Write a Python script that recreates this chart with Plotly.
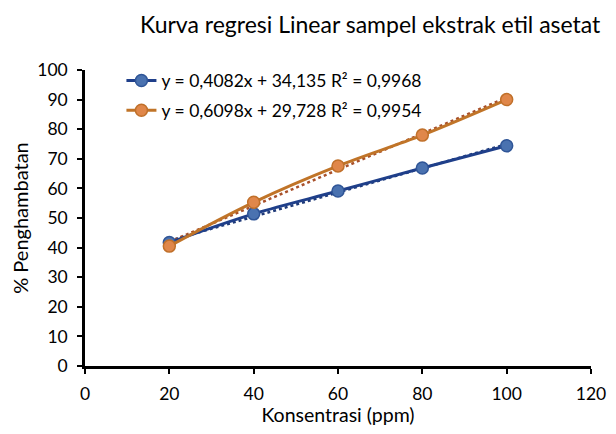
import plotly.graph_objects as go

konsentrasi = [20, 40, 60, 80, 100]
seri_biru = [41.7, 51.4, 59.1, 66.9, 74.4]
seri_oranye = [40.5, 55.3, 67.6, 78.0, 90.0]
reg_biru = (0.4082, 34.135)
reg_oranye = (0.6098, 29.728)
label_biru = "y = 0,4082x + 34,135 R² = 0,9968"
label_oranye = "y = 0,6098x + 29,728 R² = 0,9954"
judul = "Kurva regresi Linear sampel ekstrak etil asetat"
x_ticks = [0, 20, 40, 60, 80, 100, 120]
y_ticks = [0, 10, 20, 30, 40, 50, 60, 70, 80, 90, 100]

FONT = "Lato, Carlito, Calibri, sans-serif"

fig = go.Figure()

# linear trendlines (dotted), from regression coefficients
for (m, b), col in [(reg_biru, "#1F3A78"), (reg_oranye, "#A8502A")]:
    xs = [konsentrasi[0], konsentrasi[-1]]
    fig.add_trace(go.Scatter(x=xs, y=[m * v + b for v in xs], mode="lines",
                             line=dict(color=col, width=2.5, dash="dot"),
                             showlegend=False, hoverinfo="skip"))

fig.add_trace(go.Scatter(x=konsentrasi, y=seri_biru, mode="lines+markers", name=label_biru,
                         legendgroup="a",
                         line=dict(color="#1F3F8A", width=3, shape="spline"),
                         marker=dict(size=12, color="#4A72B0", line=dict(color="#2F5597", width=1.5))))
fig.add_trace(go.Scatter(x=konsentrasi, y=seri_oranye, mode="lines+markers", name=label_oranye,
                         legendgroup="b",
                         line=dict(color="#C07428", width=3, shape="spline"),
                         marker=dict(size=12, color="#E0874A", line=dict(color="#C0702A", width=1.5))))

fig.update_layout(
    width=608, height=418,
    margin=dict(l=77, r=25, t=62, b=60, autoexpand=False),
    paper_bgcolor="white", plot_bgcolor="white",
    font=dict(family=FONT, size=18, color="black"),
    showlegend=True,
    legend=dict(x=0.072, y=1.025, xanchor="left", yanchor="top",
                bgcolor="rgba(0,0,0,0)", font=dict(size=17.5),
                itemwidth=30, tracegroupgap=4, traceorder="grouped"),
    xaxis=dict(range=[0, 120], tickvals=x_ticks, showgrid=False, zeroline=False,
               showline=True, linecolor="black", linewidth=2.5,
               ticks="outside", ticklen=5, tickwidth=2, tickcolor="black",
               tickfont=dict(size=17.5), ticklabelstandoff=5, automargin=False,
               title=dict(text="Konsentrasi (ppm)", font=dict(size=19.5), standoff=10)),
    yaxis=dict(range=[0, 100], tickvals=y_ticks, showgrid=False, zeroline=False,
               showline=True, linecolor="black", linewidth=2.5,
               ticks="outside", ticklen=5, tickwidth=2, tickcolor="black",
               tickfont=dict(size=17.5), ticklabelstandoff=6, automargin=False,
               title=dict(text="% Penghambatan", font=dict(size=20), standoff=6)),
    annotations=[dict(text=judul,
                      xref="paper", yref="paper", x=0.565, y=1.154,
                      xanchor="center", yanchor="middle", showarrow=False,
                      font=dict(size=23, family=FONT, color="black"))],
)

fig.write_html("out.html")
